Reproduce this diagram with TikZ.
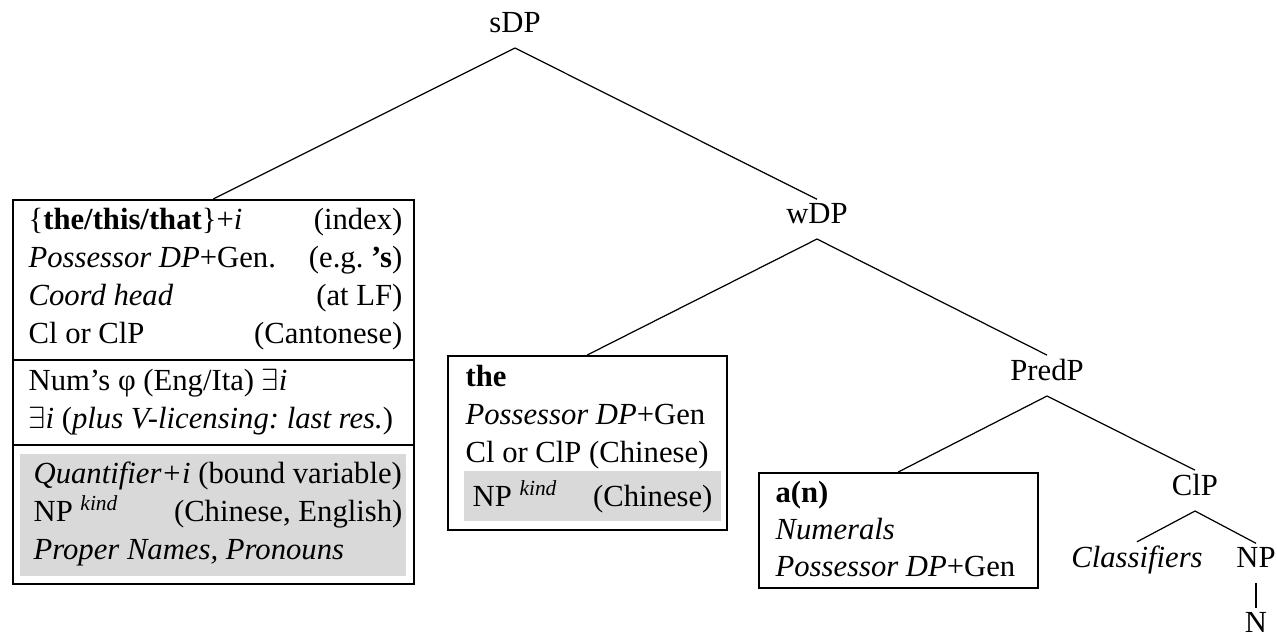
\documentclass[tikz,border=0pt]{standalone}
\usepackage{fontspec}
\setmainfont{Liberation Serif}
\frenchspacing

\tikzset{
  phrase/.style={inner xsep=0pt, inner ysep=1.3pt, text depth=3.4pt, anchor=base},
  cell/.style={inner sep=0pt, anchor=base west},
  cellr/.style={inner sep=0pt, anchor=base east},
  frame/.style={draw, line width=0.5pt, inner sep=0pt, anchor=north west},
  branch/.style={line width=0.4pt},
  shade/.style={fill=black!15},
}
\newcommand{\kindsup}{\textsuperscript{\textit{kind}}}

\begin{document}
\begin{tikzpicture}[x=0.326pt, y=-0.326pt]
\useasboundingbox (0,0) rectangle (1277,638);

% tree labels
\node[phrase] (sdp) at (515,33) {sDP};
\node[phrase] (wdp) at (817,224) {wDP};
\node[phrase] (predp) at (1047,381) {PredP};
\node[phrase] (clp) at (1195,496) {ClP};
\node[phrase] (clf) at (1137,568) {\textit{Classifiers}};
\node[phrase] (np) at (1256,568) {NP};
\node[phrase] (n) at (1256,633) {N};

% shaded rows
\fill[shade] (20,454) rectangle (406,576);
\fill[shade] (464,471) rectangle (721,521);

% boxes
\node[frame, minimum width=130.73pt, minimum height=125.18pt] (sbox) at (12,199) {};
\node[frame, minimum width=90.95pt, minimum height=56.72pt] (wbox) at (447,355) {};
\node[frame, minimum width=90.95pt, minimum height=37.49pt] (abox) at (758,472) {};
\draw[line width=0.5pt] (12,360) -- (413,360);
\draw[line width=0.5pt] (12,445) -- (413,445);

% sDP box
\node[cell] at (28,230) {\{\textbf{the/this/that}\}+\textit{i}};
\node[cellr] at (403,230) {(index)};
\node[cell] at (28,268) {\textit{Possessor DP}+Gen.};
\node[cellr] at (403,268) {(e.g. \textbf{’s})};
\node[cell] at (28,306) {\textit{Coord head}};
\node[cellr] at (403,306) {(at LF)};
\node[cell] at (28,344) {Cl or ClP};
\node[cellr] at (403,344) {(Cantonese)};
\node[cell] at (28,391) {Num’s φ (Eng/Ita) $\exists$\textit{i}};
\node[cell] at (28,429) {$\exists$\textit{i} (\textit{plus V-licensing: last res.})};
\node[cell] at (33,484) {\textit{Quantifier+i} (bound variable)};
\node[cell] at (33,522) {NP \kindsup};
\node[cellr] at (403,522) {(Chinese, English)};
\node[cell] at (33,560) {\textit{Proper Names, Pronouns}};

% wDP box
\node[cell] at (465,387) {\textbf{the}};
\node[cell] at (465,425) {\textit{Possessor DP}+Gen};
\node[cell] at (465,463) {Cl or ClP (Chinese)};
\node[cell] at (472,507) {NP \kindsup};
\node[cellr] at (713,507) {(Chinese)};

% PredP box
\node[cell] at (775,503) {\textbf{a(n)}};
\node[cell] at (775,540) {\textit{Numerals}};
\node[cell] at (775,577) {\textit{Possessor DP}+Gen};

% branches
\draw[branch] (sdp.south) -- (sbox.north);
\draw[branch] (sdp.south) -- (wdp.north);
\draw[branch] (wdp.south) -- (wbox.north);
\draw[branch] (wdp.south) -- (predp.north);
\draw[branch] (predp.south) -- (abox.north);
\draw[branch] (predp.south) -- (clp.north);
\draw[branch] (clp.south) -- (clf.north);
\draw[branch] (clp.south) -- (np.north);
\draw[branch] (np.south) -- (n.north);
\end{tikzpicture}
\end{document}
